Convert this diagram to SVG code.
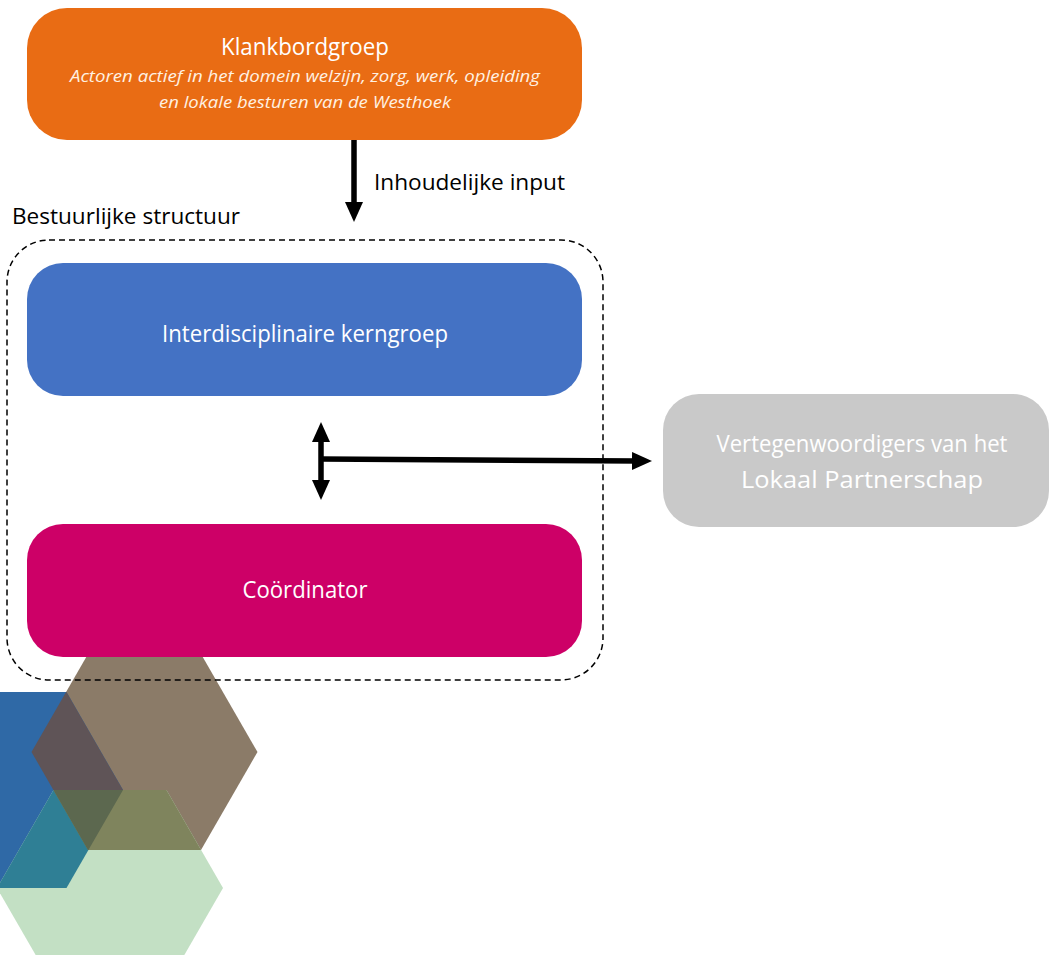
<svg xmlns="http://www.w3.org/2000/svg" width="1051" height="955" viewBox="0 0 1051 955">
<style>
.box-text{font-family:"Open Sans","Noto Sans","Liberation Sans",sans-serif;fill:#ffffff;text-anchor:middle;font-size:23.5px}
.label{font-family:"Open Sans","Noto Sans","Liberation Sans",sans-serif;fill:#000000;font-size:22px}
.sub{font-family:"Open Sans","Noto Sans","Liberation Sans",sans-serif;font-style:italic;fill:#FFF1E2;text-anchor:middle;font-size:17px}
.conn{stroke:#000;stroke-width:5.5;fill:none}
</style>
<defs>
<marker id="ah" viewBox="0 0 20 18" refX="5" refY="9" markerWidth="20" markerHeight="18" markerUnits="userSpaceOnUse" orient="auto-start-reverse">
<path d="M0,0 L20,9 L0,18 z" fill="#000"/>
</marker>
<polygon id="hexB" points="257.5,752 201,654.1 88,654.1 31.5,752 88,849.9 201,849.9"/>
<polygon id="hexL" points="123,790 66.5,692.1 -46.5,692.1 -103,790 -46.5,887.9 66.5,887.9"/>
<polygon id="hexG" points="223,888 166.5,790.1 53.5,790.1 -3,888 53.5,985.9 166.5,985.9"/>
<clipPath id="cB"><use href="#hexB"/></clipPath>
<clipPath id="cL"><use href="#hexL"/></clipPath>
</defs>

<g id="hexagons">
<use href="#hexB" fill="#8B7B68"/>
<use href="#hexL" fill="#2F69A6"/>
<use href="#hexG" fill="#C3E0C4"/>
<use href="#hexL" fill="#5F5457" clip-path="url(#cB)"/>
<use href="#hexG" fill="#2F7F95" clip-path="url(#cL)"/>
<use href="#hexG" fill="#7F845D" clip-path="url(#cB)"/>
<g clip-path="url(#cL)"><use href="#hexG" fill="#5C684F" clip-path="url(#cB)"/></g>
</g>

<g id="bestuurlijke-structuur">
<rect x="7" y="240" width="596" height="440" rx="42" fill="none" stroke="#000" stroke-width="1.5" stroke-dasharray="6 4"/>
<text class="label" x="12" y="224" textLength="228" lengthAdjust="spacingAndGlyphs">Bestuurlijke structuur</text>
</g>

<g id="klankbordgroep">
<rect x="27" y="8" width="555" height="132" rx="40" fill="#E96C14"/>
<text class="box-text" x="305" y="55" textLength="168" lengthAdjust="spacingAndGlyphs">Klankbordgroep</text>
<text class="sub" x="305" y="82" textLength="470" lengthAdjust="spacingAndGlyphs">Actoren actief in het domein welzijn, zorg, werk, opleiding</text>
<text class="sub" x="305" y="108" textLength="292" lengthAdjust="spacingAndGlyphs">en lokale besturen van de Westhoek</text>
</g>

<g id="kerngroep">
<rect x="27" y="263" width="555" height="133" rx="36" fill="#4472C4"/>
<text class="box-text" x="305" y="342" textLength="286" lengthAdjust="spacingAndGlyphs">Interdisciplinaire kerngroep</text>
</g>

<g id="coordinator">
<rect x="27" y="524" width="555" height="133" rx="36" fill="#CD0067"/>
<text class="box-text" x="305" y="598" textLength="125" lengthAdjust="spacingAndGlyphs">Coördinator</text>
</g>

<g id="partnerschap">
<rect x="663" y="394" width="386" height="133" rx="36" fill="#C9C9C9"/>
<text class="box-text" x="862" y="452" textLength="291" lengthAdjust="spacingAndGlyphs">Vertegenwoordigers van het</text>
<text class="box-text" x="862" y="488" textLength="242" lengthAdjust="spacingAndGlyphs">Lokaal Partnerschap</text>
</g>

<g id="connectors">
<line class="conn" x1="354" y1="140" x2="354" y2="207" marker-end="url(#ah)"/>
<text class="label" x="374" y="190" textLength="191" lengthAdjust="spacingAndGlyphs">Inhoudelijke input</text>
<line class="conn" x1="321" y1="437" x2="321" y2="485" marker-start="url(#ah)" marker-end="url(#ah)"/>
<line class="conn" x1="321" y1="459" x2="637" y2="461" marker-end="url(#ah)"/>
</g>
</svg>
